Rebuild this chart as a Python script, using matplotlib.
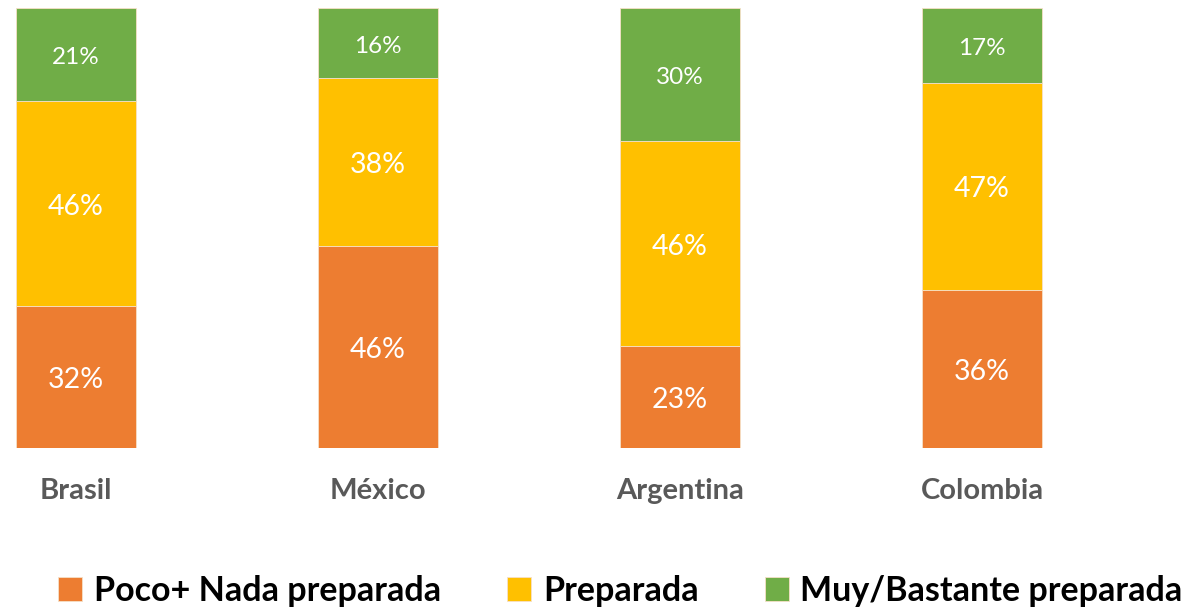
import matplotlib.pyplot as plt
import numpy as np

countries = ["Brasil", "México", "Argentina", "Colombia"]
poco = [32, 46, 23, 36]
preparada = [46, 38, 46, 47]
muy = [21, 16, 30, 17]
series_names = ["Poco+ Nada preparada", "Preparada", "Muy/Bastante preparada"]
colors = ["#ED7D31", "#FFC000", "#70AD47"]

plt.rcParams['font.family'] = ['Lato', 'DejaVu Sans']

fig = plt.figure(figsize=(11.86, 6.10), dpi=100)
# bars go from y=8 to y=448 px, axes spans full width
ax = fig.add_axes([0, (610 - 448) / 610, 1, 440 / 610])

data = np.array([poco, preparada, muy], dtype=float)
totals = data.sum(axis=0)
shares = data / totals  # 100% stacked, like the original

x = np.arange(len(countries))
bottom = np.zeros(len(countries))
label_sizes = [20.5, 20.5, 17.5]
for i in range(3):
    ax.bar(x, shares[i], bottom=bottom, width=120 / 302, color=colors[i],
           edgecolor="#f6e0c8", linewidth=0.6, label=series_names[i])
    for j in range(len(countries)):
        ax.text(x[j], bottom[j] + shares[i][j] / 2 - 3 / 440, "{}%".format(int(data[i][j])),
                ha="center", va="center", color="white", fontsize=label_sizes[i])
    bottom += shares[i]

ax.set_xlim(-76 / 302, (1186 - 76) / 302)
ax.set_ylim(0, 1)
ax.axis("off")

for j, name in enumerate(countries):
    ax.text(x[j], -43 / 440, name, ha="center", va="center", color="#595959",
            fontsize=21, fontweight="bold")

fig.legend(loc="center", bbox_to_anchor=(0.523, (610 - 591) / 610), ncol=3, frameon=False,
           prop={"size": 24.5, "weight": "bold"}, handlelength=0.7, handleheight=0.7,
           handletextpad=0.35, columnspacing=1.95, borderaxespad=0)

fig.savefig("out.png", dpi=100)
